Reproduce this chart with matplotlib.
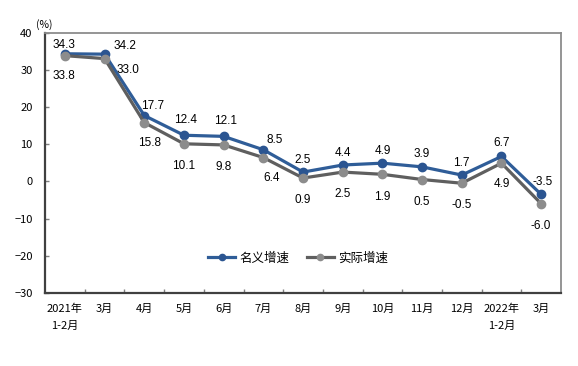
import numpy as np
import matplotlib
matplotlib.use("Agg")
import matplotlib.pyplot as plt

plt.rcParams['font.family'] = ['Noto Sans CJK SC', 'DejaVu Sans']
plt.rcParams['axes.unicode_minus'] = True

# 数据
months = ['2021年\n1-2月', '3月', '4月', '5月', '6月', '7月', '8月', '9月',
          '10月', '11月', '12月', '2022年\n1-2月', '3月']
nominal = [34.3, 34.2, 17.7, 12.4, 12.1, 8.5, 2.5, 4.4, 4.9, 3.9, 1.7, 6.7, -3.5]
real = [33.8, 33.0, 15.8, 10.1, 9.8, 6.4, 0.9, 2.5, 1.9, 0.5, -0.5, 4.9, -6.0]

# 标签偏移 (points)
nom_off = [(-1, 6), (15, 6), (6, 7), (1, 11), (1, 11), (8, 7), (0, 9), (0, 9),
           (0, 9), (0, 9), (0, 9), (0, 10), (1, 9)]
real_off = [(-1, -15), (17, -8), (4, -15), (0, -16), (0, -16), (6, -15), (0, -16),
            (0, -16), (0, -16), (0, -16), (0, -16), (0, -15), (0, -16)]

BLUE = '#2F5D98'
BLUE_M = '#2B5591'
GRAY = '#5F5F5F'
GRAY_M = '#8C8C8C'

fig = plt.figure(figsize=(5.78, 3.66), dpi=100)
ax = fig.add_axes([0.078, 0.1995, 0.8926, 0.7115])

x = np.arange(len(months))
ax.plot(x, nominal, color=BLUE, lw=2.3, marker='o', ms=6, mfc=BLUE_M, mec=BLUE_M,
        label='名义增速', zorder=3)
ax.plot(x, real, color=GRAY, lw=2.3, marker='o', ms=6, mfc=GRAY_M, mec=GRAY_M,
        label='实际增速', zorder=4)

for i, v in enumerate(nominal):
    ax.annotate(f'{v:.1f}', (x[i], v), xytext=nom_off[i], textcoords='offset points',
                ha='center', va='center', fontsize=8.5, family='Liberation Sans', zorder=5)
for i, v in enumerate(real):
    ax.annotate(f'{v:.1f}', (x[i], v), xytext=real_off[i], textcoords='offset points',
                ha='center', va='center', fontsize=8.5, family='Liberation Sans', zorder=5)

ax.set_xlim(-0.5, len(months) - 0.5)
ax.set_ylim(-30, 40)
ax.set_yticks(range(-30, 41, 10))
ax.set_yticklabels([str(t).replace('-', '\u2212') for t in range(-30, 41, 10)], fontsize=8)

ax.set_xticks(x)
ax.set_xticklabels(months, fontsize=8, linespacing=1.75)
ax.set_xticks(np.arange(0.5, len(months) - 0.5, 1), minor=True)
ax.tick_params(axis='x', which='major', length=0, pad=8)
ax.tick_params(axis='x', which='minor', direction='in', length=3, width=1, color='#7F7F7F')
ax.tick_params(axis='y', direction='in', length=3, width=1, color='#7F7F7F', pad=9)

for s in ['left', 'bottom']:
    ax.spines[s].set_color('#404040')
    ax.spines[s].set_linewidth(1.6)
for s in ['top', 'right']:
    ax.spines[s].set_color('#8C8C8C')
    ax.spines[s].set_linewidth(1.3)

fig.text(0.063, 0.932, '(%)', fontsize=7.5, ha='left', va='center')

leg = ax.legend(loc='center', bbox_to_anchor=(0.49, 0.134), ncol=2, frameon=False,
                fontsize=9, handlelength=2.2, columnspacing=1.4, handletextpad=0.3,
                markerscale=0.75)

fig.savefig('out.png', dpi=100)
